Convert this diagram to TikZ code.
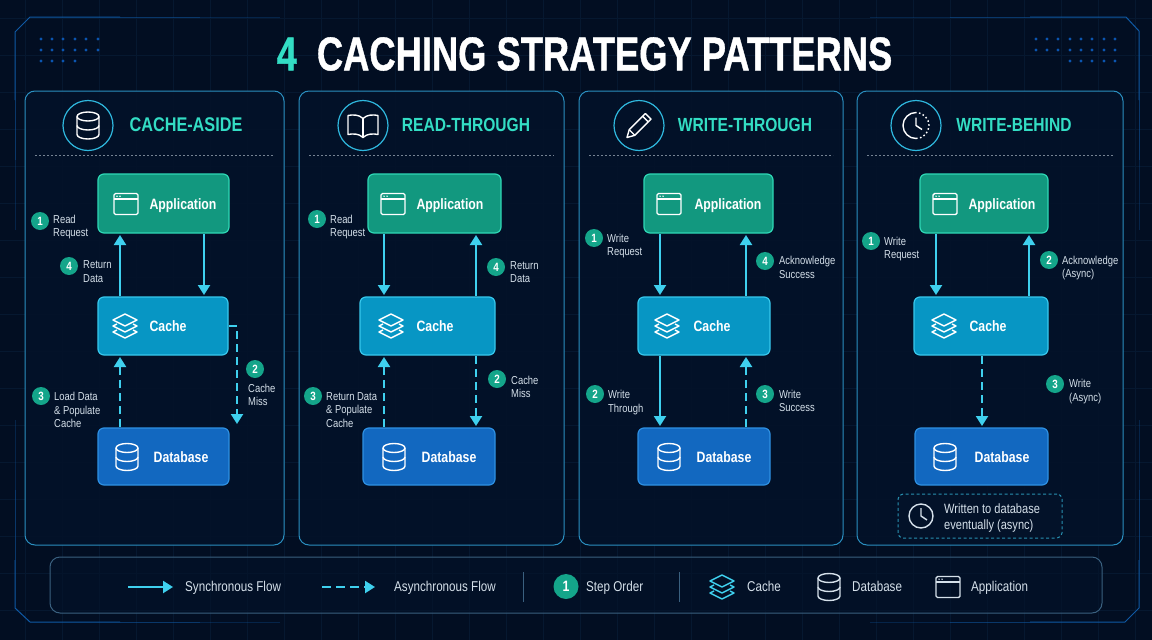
\documentclass[tikz,border=0pt]{standalone}
\usepackage{fontspec}
\usepackage{tikz}
\usetikzlibrary{calc,positioning,arrows.meta}
\setmainfont[FakeStretch=0.82]{Liberation Sans}
\newfontfamily\titlefont[FakeStretch=0.765,BoldFeatures={FakeStretch=0.765,FakeBold=0.8}]{Liberation Sans}
\definecolor{bgdark}{HTML}{020E22}
\definecolor{gridline}{HTML}{061830}
\definecolor{framecol}{HTML}{0F5AA6}
\definecolor{dotcol}{HTML}{0B55B0}
\definecolor{cardfill}{HTML}{031229}
\definecolor{cardline}{HTML}{2A8FC0}
\definecolor{teal}{HTML}{33DDC4}
\definecolor{ringcol}{HTML}{2FB8DE}
\definecolor{appfill}{HTML}{12987F}
\definecolor{appline}{HTML}{2ED8B6}
\definecolor{cachefill}{HTML}{0796C4}
\definecolor{cacheline}{HTML}{38C8EC}
\definecolor{dbfill}{HTML}{1268C0}
\definecolor{dbline}{HTML}{2E90E2}
\definecolor{flowcol}{HTML}{3FD0EE}
\definecolor{badgecol}{HTML}{14A58A}
\definecolor{notecol}{HTML}{D5E0EA}
\definecolor{legendline}{HTML}{3A607F}
\tikzset{
    dbicon/.pic={
        \draw[iconline] (0,-9) circle[x radius=11pt,y radius=4.5pt];
        \draw[iconline] (-11,-9) -- (-11,9) arc[start angle=180,end angle=360,x radius=11pt,y radius=4.5pt] -- (11,-9);
        \draw[iconline] (-11,0) arc[start angle=180,end angle=360,x radius=11pt,y radius=4.5pt];
    },
    cacheicon/.pic={
        \draw[iconline] (0,-12) -- (12,-6) -- (0,0) -- (-12,-6) -- cycle;
        \draw[iconline] (-8,-2) -- (-12,0) -- (0,6) -- (12,0) -- (8,-2);
        \draw[iconline] (-8,4) -- (-12,6) -- (0,12) -- (12,6) -- (8,4);
    },
    appicon/.pic={
        \draw[iconline,rounded corners=1.5pt] (-12,-10.5) rectangle (12,10.5);
        \draw[iconline] (-12,-5) -- (12,-5);
        \fill (-9,-7.8) circle[radius=.8pt] (-6,-7.8) circle[radius=.8pt];
    },
    bookicon/.pic={
        \draw[iconline] (0,-7) .. controls (-4,-11) and (-10,-11) .. (-15,-10) -- (-15,9) .. controls (-10,8) and (-4,8) .. (0,12) .. controls (4,8) and (10,8) .. (15,9) -- (15,-10) .. controls (10,-11) and (4,-11) .. (0,-7) -- cycle;
        \draw[iconline] (0,-7) -- (0,12);
    },
    pencilicon/.pic={
        \draw[iconline] (-12,12) -- (-4.2,9.8) -- (9.2,-3.6) -- (12,-6.4) -- (6.4,-12) -- (3.6,-9.2) -- (-9.8,4.2) -- cycle;
        \draw[iconline] (3.6,-9.2) -- (9.2,-3.6);
        \draw[iconline] (-9.8,4.2) -- (-4.2,9.8);
    },
    lateicon/.pic={
        \draw[iconline] (0,-13) arc[start angle=90,end angle=270,radius=13pt];
        \draw[iconline,dash pattern=on 1.6pt off 2.4pt] (0,13) arc[start angle=270,end angle=450,radius=13pt];
        \draw[iconline] (0,-8) -- (0,0) -- (6,4);
    },
    clockicon/.pic={
        \draw[iconline] (0,0) circle[radius=12pt];
        \draw[iconline] (0,-8) -- (0,0) -- (6,4);
    }
}
\begin{document}
\begin{tikzpicture}[
        x=1pt,y=-1pt,
        iconline/.style={line width=1.4pt,line join=round},
        card/.style={draw=cardline,line width=1pt,fill=cardfill,fill opacity=.9,rounded corners=10pt},
        ring/.style={circle,draw=ringcol,line width=1.2pt,minimum size=50pt,inner sep=0pt},
        rule/.style={draw=notecol!55!cardfill,line width=.7pt,dash pattern=on 2pt off 2pt},
        flowbox/.style={rounded corners=6pt,line width=1.2pt,inner sep=0pt,outer sep=0pt},
        appbox/.style={flowbox,draw=appline,fill=appfill,minimum height=59pt},
        cachebox/.style={flowbox,draw=cacheline,fill=cachefill,minimum height=58pt},
        dbbox/.style={flowbox,draw=dbline,fill=dbfill,minimum height=57pt},
        boxtext/.style={text=white,text height=11pt,text depth=0pt,inner sep=0pt,font=\bfseries\fontsize{15}{15}\selectfont},
        flow/.style={draw=flowcol,line width=2.2pt,-{Triangle[length=10pt,width=12pt]},shorten >=2pt,shorten <=1pt},
        lateflow/.style={flow,dash pattern=on 8pt off 5pt},
        badge/.style={circle,fill=badgecol,text=white,inner sep=0pt,minimum size=18pt,font=\bfseries\fontsize{12}{12}\selectfont},
        note/.style={anchor=west,align=left,text=notecol,inner sep=0pt,font=\fontsize{11.5}{13.5}\selectfont},
        legendtext/.style={anchor=west,text=notecol,inner sep=0pt,text height=10pt,text depth=0pt,font=\fontsize{14.2}{14}\selectfont}
    ]
    \useasboundingbox (0,0) rectangle (1152,640);
    \fill[bgdark] (0,0) rectangle (1152,640);
    \foreach \x in {25,62,...,1152} \draw[gridline,line width=.4pt] (\x,0) -- (\x,640);
    \foreach \y in {18,55,...,640} \draw[gridline,line width=.4pt] (0,\y) -- (1152,\y);

    \draw[framecol,line width=1pt] (15,100) -- (15,32) -- (30,17) -- (120,17);
    \draw[framecol,line width=1pt] (1030,17) -- (1126,17) -- (1139,31) -- (1139,100);
    \draw[framecol,line width=1pt] (15,560) -- (15,608) -- (30,622) -- (120,622);
    \draw[framecol,line width=1pt] (1030,622) -- (1125,622) -- (1139,608) -- (1139,560);
    \foreach \a/\b/\o in {120/200/.55,200/280/.3,870/950/.3,950/1030/.55} {
        \draw[framecol,line width=.7pt,opacity=\o] (\a,17) -- (\b,17);
        \draw[framecol,line width=.7pt,opacity=\o] (\a,622) -- (\b,622);
    }
    \foreach \a/\b/\o in {100/160/.55,160/230/.3,420/490/.3,490/560/.55} {
        \draw[framecol,line width=.7pt,opacity=\o] (15,\a) -- (15,\b);
        \draw[framecol,line width=.7pt,opacity=\o] (1139,\a) -- (1139,\b);
    }

    \foreach \x in {41,52,63,75,86,98} \foreach \y in {39,50} \fill[dotcol] (\x,\y) circle[radius=1.6pt];
    \foreach \x in {41,52,63,75} \fill[dotcol] (\x,61) circle[radius=1.6pt];
    \foreach \x in {1036,1047,1058,1070,1081,1092,1104,1115} \foreach \y in {39,50} \fill[dotcol] (\x,\y) circle[radius=1.6pt];
    \foreach \x in {1070,1081,1092,1104,1115} \fill[dotcol] (\x,61) circle[radius=1.6pt];

    \node[font=\titlefont\bfseries\fontsize{47.5}{50}\selectfont,text=white,inner sep=0pt] (title) at (584.5,54) {\textcolor{teal}{4}\hspace{20pt}CACHING STRATEGY PATTERNS};

    \foreach \n/\l/\r/\cx/\tx/\fs/\txt/\ic in {c1/25/284/88/186/19.8/CACHE-ASIDE/dbicon,c2/299/564/363/466/19/READ-THROUGH/bookicon,c3/579/843/639/745/19/WRITE-THROUGH/pencilicon,c4/857/1123/916/1014/19/WRITE-BEHIND/lateicon} {
        \draw[card] (\l,91) rectangle (\r,545);
        \draw[rule] (\l+10,155.5) -- (\r-10,155.5);
        \node[ring] (\n ring) at (\cx,125.5) {};
        \pic[color=white] at (\n ring) {\ic};
        \node[text=teal,font=\bfseries\fontsize{\fs}{20}\selectfont] (\n title) at (\tx,125) {\txt};
    }

    \foreach \n/\x/\w/\ix/\tx in {c1/163.5/131/126/183,c2/434.5/133/393/450,c3/708.5/129/669/728,c4/984/128/945/1002} {
        \node[appbox,minimum width=\w pt] (\n app) at (\x,203.5) {};
        \pic[color=white] at (\ix,204) {appicon};
        \node[boxtext] (\n appt) at (\tx,204) {Application};
    }
    \foreach \n/\x/\w/\ix/\tx in {c1/163/130/125/168,c2/427.5/135/391/435,c3/704/132/667/712,c4/981/134/944/988} {
        \node[cachebox,minimum width=\w pt] (\n cache) at (\x,326) {};
        \pic[color=white] at (\ix,326) {cacheicon};
        \node[boxtext] (\n cachet) at (\tx,326) {Cache};
    }
    \foreach \n/\x/\w/\ix/\tx in {c1/163.5/131/127/181,c2/429/132/394/449,c3/704/132/669/724,c4/981.5/133/945/1002} {
        \node[dbbox,minimum width=\w pt] (\n db) at (\x,456.5) {};
        \pic[color=white] at (\ix,457) {dbicon};
        \node[boxtext] (\n dbt) at (\tx,457) {Database};
    }

    \coordinate (c1miss) at (237,426);
    \draw[flow] (c1cache.north -| 120,0) -- (c1app.south -| 120,0);
    \draw[flow] (c1app.south -| 204,0) -- (c1cache.north -| 204,0);
    \draw[lateflow] (c1db.north -| 120,0) -- (c1cache.south -| 120,0);
    \draw[lateflow] (c1cache.east) -| (c1miss);
    \draw[flow] (c2app.south -| 384,0) -- (c2cache.north -| 384,0);
    \draw[flow] (c2cache.north -| 476,0) -- (c2app.south -| 476,0);
    \draw[lateflow] (c2db.north -| 384,0) -- (c2cache.south -| 384,0);
    \draw[lateflow] (c2cache.south -| 476,0) -- (c2db.north -| 476,0);
    \draw[flow] (c3app.south -| 660,0) -- (c3cache.north -| 660,0);
    \draw[flow] (c3cache.north -| 746,0) -- (c3app.south -| 746,0);
    \draw[flow] (c3cache.south -| 660,0) -- (c3db.north -| 660,0);
    \draw[lateflow] (c3db.north -| 746,0) -- (c3cache.south -| 746,0);
    \draw[flow] (c4app.south -| 936,0) -- (c4cache.north -| 936,0);
    \draw[flow] (c4cache.north -| 1029,0) -- (c4app.south -| 1029,0);
    \draw[lateflow] (c4cache.south -| 982,0) -- (c4db.north -| 982,0);

    \foreach \n/\d/\bx/\by/\tx/\ty/\txt in {
        c1/1/40/221/53/227/{Read\\Request},
        c1/4/69/266/83/271.5/{Return\\Data},
        c1/3/41/396/54/410/{Load Data\\\& Populate\\Cache},
        c1/2/255/369/248/395/{Cache\\Miss},
        c2/1/317/219/330/227/{Read\\Request},
        c2/4/496/267/510/272/{Return\\Data},
        c2/3/313/396/326/410/{Return Data\\\& Populate\\Cache},
        c2/2/497/379/511/387/{Cache\\Miss},
        c3/1/594/238/607/246/{Write\\Request},
        c3/4/765/261/779/267.5/{Acknowledge\\Success},
        c3/2/595/394/608/402.5/{Write\\Through},
        c3/3/765/394/779/401/{Write\\Success},
        c4/1/871/241/884/249/{Write\\Request},
        c4/2/1049/260/1062/268/{Acknowledge\\(Async)},
        c4/3/1055/384/1069/391.5/{Write\\(Async)}} {
        \node[badge] (\n n\d) at (\bx,\by) {\d};
        \node[note] (\n t\d) at (\tx,\ty) {\txt};
    }

    \node[draw=cacheline!70!cardfill,rounded corners=5pt,line width=1pt,dash pattern=on 3pt off 2.5pt,fill=cardfill,minimum width=164pt,minimum height=44pt,inner sep=0pt] (latebox) at (980,516) {};
    \pic[color=notecol] at (921,516) {clockicon};
    \node[note,font=\fontsize{13.5}{16}\selectfont] (latetext) at (944,518) {Written to database\\eventually (async)};

    \draw[draw=legendline,line width=1pt,fill=cardfill,fill opacity=.6,rounded corners=10pt] (50,557) rectangle (1102,613);
    \coordinate (syncfrom) at (128,587);
    \coordinate (syncto) at (173,587);
    \coordinate (asyncfrom) at (322,587);
    \coordinate (asyncto) at (375,587);
    \draw[flow,shorten >=0pt,shorten <=0pt] (syncfrom) -- (syncto);
    \draw[lateflow,dash pattern=on 9pt off 5pt,shorten >=0pt,shorten <=0pt] (asyncfrom) -- (asyncto);
    \node[legendtext] (synctext) at (185,586.5) {Synchronous Flow};
    \node[legendtext] (asynctext) at (394,586) {Asynchronous Flow};
    \draw[legendline,line width=1pt] (523,572) -- (523,602);
    \node[badge,minimum size=25pt,font=\bfseries\fontsize{15}{15}\selectfont] (stepbadge) at (566,586.5) {1};
    \node[legendtext] (steptext) at (586,586.5) {Step Order};
    \draw[legendline,line width=1pt] (679,572) -- (679,602);
    \pic[color=flowcol] at (722,587) {cacheicon};
    \node[legendtext] (cachetext) at (747,586.5) {Cache};
    \pic[color=notecol] at (829,587) {dbicon};
    \node[legendtext] (dbtext) at (852,586.5) {Database};
    \pic[color=notecol] at (948,587) {appicon};
    \node[legendtext] (apptext) at (971,586.5) {Application};
\end{tikzpicture}
\end{document}
